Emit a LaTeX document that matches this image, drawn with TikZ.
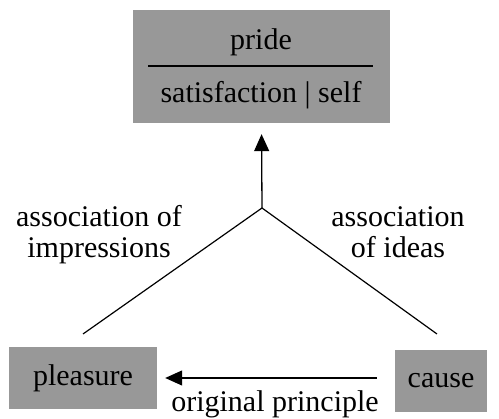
\documentclass[tikz,border=0pt]{standalone}
\usepackage{fontspec}
\setmainfont{Liberation Serif}
\newfontfamily\timesfont{Liberation Serif}
\usetikzlibrary{arrows.meta}
\definecolor{boxgray}{RGB}{152,152,152}
\begin{document}
\begin{tikzpicture}[x=1pt,y=-1pt,
  every node/.style={font=\timesfont\fontsize{30}{32}\selectfont, inner sep=0pt},
  graybox/.style={fill=boxgray, draw=none, rectangle},
  lbl/.style={anchor=base, align=center},
  conn/.style={line width=1.2pt},
  arr/.style={line width=1.3pt, -{Triangle[length=17pt,width=15pt]}}]
\useasboundingbox (0,0) rectangle (499,419);
% boxes
\node[graybox, minimum width=257pt, minimum height=113pt] (top) at (261.5,66.5) {};
\node[lbl] (pride) at (261,50) {pride};
\node[lbl] (sat) at (261,103) {satisfaction | self};
\draw[line width=2pt] (148,66) coordinate (l1) -- (373,66) coordinate (l2);
\node[graybox, minimum width=148pt, minimum height=62pt] (pleasure) at (83,378) {pleasure};
\node[graybox, minimum width=92pt, minimum height=62pt] (cause) at (441,381) {cause};
% connectors
\coordinate (j) at (262,208);
\coordinate (pl) at (83,334);
\coordinate (ca) at (437,334);
\draw[conn] (pl) -- (j) -- (ca);
\draw[arr, shorten >=11pt] (j) -- (top.south);
\draw[arr] ([xshift=-18pt]cause.west |- pleasure.center) -- ([xshift=8pt]pleasure.east);
% labels
\node[lbl] (ai1) at (99,227) {association of};
\node[lbl] (ai2) at (99,258) {impressions};
\node[lbl] (ad1) at (398,227) {association};
\node[lbl] (ad2) at (398,258) {of ideas};
\node[lbl] (op) at (275,412) {original principle};
\end{tikzpicture}
\end{document}
